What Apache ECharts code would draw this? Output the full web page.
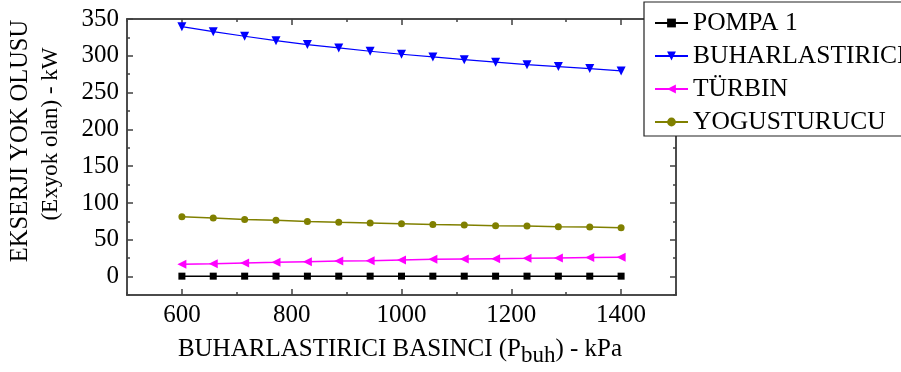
<!DOCTYPE html>
<html>
<head>
<meta charset="utf-8">
<script src="https://cdn.jsdelivr.net/npm/echarts@6/dist/echarts.min.js"></script>
<style>
html,body{margin:0;padding:0;background:#fff;}
#c{width:901px;height:372px;}
</style>
</head>
<body>
<div id="c"></div>
<script>
const pressure = [600, 657.1, 714.3, 771.4, 828.6, 885.7, 942.9, 1000, 1057.1, 1114.3, 1171.4, 1228.6, 1285.7, 1342.9, 1400];
const pompa1 = [0.6, 0.6, 0.6, 0.6, 0.6, 0.6, 0.6, 0.6, 0.6, 0.6, 0.6, 0.6, 0.6, 0.6, 0.6];
const buharlastirici = [339.6, 332.8, 326.6, 320.6, 315.2, 310.7, 306.2, 302.1, 298.5, 294.8, 291.3, 288.0, 285.3, 282.6, 279.5];
const turbin = [16.7, 17.6, 18.6, 19.4, 20.3, 21.3, 21.7, 22.7, 23.5, 24.0, 24.4, 24.8, 25.4, 25.8, 26.2];
const yogusturucu = [81.4, 79.6, 77.7, 76.4, 75.0, 73.7, 72.8, 71.9, 70.9, 70.1, 69.2, 68.8, 67.8, 67.4, 66.5];
const seriesNames = ['POMPA 1', 'BUHARLASTIRICI', 'TÜRBIN', 'YOGUSTURUCU'];
const xLabels = [600, 800, 1000, 1200, 1400];
const xMinorTicks = [500, 700, 900, 1100, 1300, 1500];
const yLabels = [0, 50, 100, 150, 200, 250, 300, 350];
const yMinorTicks = [-25, 25, 75, 125, 175, 225, 275, 325];
const xTitleParts = ['BUHARLASTIRICI BASINCI (P', 'buh', ') - kPa'];

const FONT = '"Liberation Serif", "Times New Roman", serif';
const axisCol = '#404040';

function pairs(ys){ return pressure.map((x,i)=>[x, ys[i]]); }

const chart = echarts.init(document.getElementById('c'), null, {renderer:'canvas'});

function xAx(pos, ticks, len, labels){
  return {
    type:'value', min:500, max:1500, position:pos,
    axisLine:{show:true, onZero:false, lineStyle:{color:axisCol, width:1.5}},
    axisTick:{show:true, inside:true, length:len, customValues:ticks, lineStyle:{color:axisCol, width:1.5}},
    axisLabel: labels ? {show:true, margin:8, color:'#000', fontFamily:FONT, fontSize:25, customValues:labels,
                         formatter:v => String(v)}
                      : {show:false},
    splitLine:{show:false}
  };
}
function yAx(pos, ticks, len, labels){
  return {
    type:'value', min:-25, max:350, position:pos,
    axisLine:{show:true, onZero:false, lineStyle:{color:axisCol, width:1.5}},
    axisTick:{show:true, inside:true, length:len, customValues:ticks, lineStyle:{color:axisCol, width:1.5}},
    axisLabel: labels ? {show:true, margin:8, color:'#000', fontFamily:FONT, fontSize:25, customValues:labels,
                         formatter:v => String(v)}
                      : {show:false},
    splitLine:{show:false}
  };
}

// x-axis title with subscript, built from three text pieces
const mainFont = '25px ' + FONT;
const subFont = '23px ' + FONT;
const mctx = document.createElement('canvas').getContext('2d');
mctx.font = mainFont; const w0 = mctx.measureText(xTitleParts[0]).width; const w2 = mctx.measureText(xTitleParts[2]).width;
mctx.font = subFont; const w1 = mctx.measureText(xTitleParts[1]).width;
const totalW = w0 + w1 + w2;
const titleCx = 400, titleTop = 337;
const startX = titleCx - totalW / 2;

chart.setOption({
  animation:false,
  backgroundColor:'#fff',
  grid:{left:127, top:19, width:549, height:276, containLabel:false},
  xAxis:[
    xAx('bottom', xLabels, 6, xLabels),
    xAx('top', xLabels, 6, null),
    xAx('bottom', xMinorTicks, 3, null),
    xAx('top', xMinorTicks, 3, null)
  ],
  yAxis:[
    yAx('left', yLabels, 6, yLabels),
    yAx('right', yLabels, 6, null),
    yAx('left', yMinorTicks, 3, null),
    yAx('right', yMinorTicks, 3, null)
  ],
  legend:{
    orient:'vertical', left:644, top:2,
    data:seriesNames,
    backgroundColor:'#fff', borderColor:'#222', borderWidth:1.2,
    padding:[8, 10, 1, 10],
    itemWidth:33, itemHeight:11, itemGap:7,
    textStyle:{fontFamily:FONT, fontSize:25.5, color:'#000', lineHeight:25}
  },
  graphic:[
    {type:'text', x:21, y:141, rotation:Math.PI/2,
      style:{text:'EKSERJI YOK OLUSU', font:'24.5px ' + FONT, fill:'#000', align:'center', verticalAlign:'middle'}},
    {type:'text', x:51, y:134, rotation:Math.PI/2,
      style:{text:'(Exyok olan) - kW', font:'23px ' + FONT, fill:'#000', align:'center', verticalAlign:'middle'}},
    {type:'text', x:startX, y:titleTop,
      style:{text:xTitleParts[0], font:mainFont, fill:'#000', align:'left', verticalAlign:'top'}},
    {type:'text', x:startX + w0, y:titleTop + 7,
      style:{text:xTitleParts[1], font:subFont, fill:'#000', align:'left', verticalAlign:'top'}},
    {type:'text', x:startX + w0 + w1, y:titleTop,
      style:{text:xTitleParts[2], font:mainFont, fill:'#000', align:'left', verticalAlign:'top'}}
  ],
  series:[
    {name:seriesNames[0], type:'line', data:pairs(pompa1), color:'#000000',
      symbol:'rect', symbolSize:7, lineStyle:{width:1.5}},
    {name:seriesNames[1], type:'line', data:pairs(buharlastirici), color:'#0000ff',
      symbol:'triangle', symbolRotate:180, symbolSize:9, lineStyle:{width:1.2}},
    {name:seriesNames[2], type:'line', data:pairs(turbin), color:'#ff00ff',
      symbol:'triangle', symbolRotate:90, symbolSize:9, lineStyle:{width:1.5}},
    {name:seriesNames[3], type:'line', data:pairs(yogusturucu), color:'#808000',
      symbol:'circle', symbolSize:7, lineStyle:{width:1.5}}
  ]
});
</script>
</body>
</html>
